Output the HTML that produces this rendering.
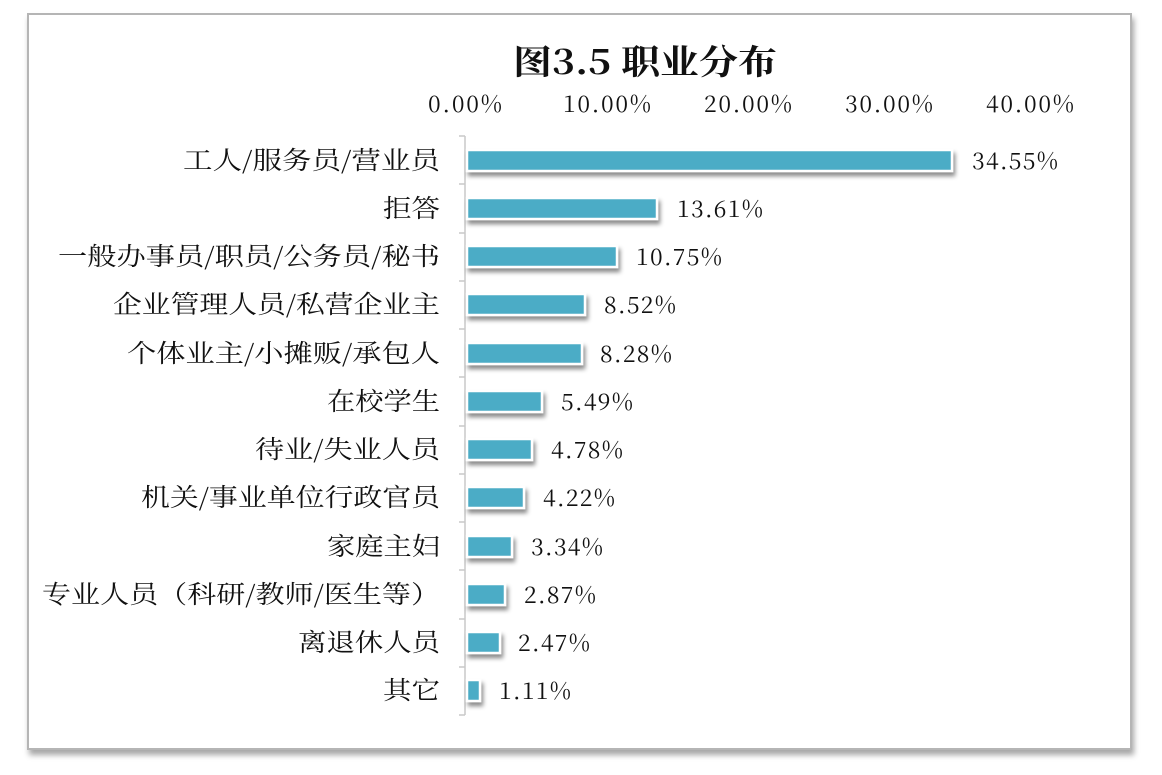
<!DOCTYPE html>
<html><head><meta charset="utf-8"><style>
body{margin:0;background:#fff;}
svg text{font-family:"Noto Serif CJK SC","Liberation Serif",serif;fill:#111;}
</style></head><body>
<svg width="1162" height="770" xmlns="http://www.w3.org/2000/svg">
<defs>
<filter id="sh" x="-10%" y="-10%" width="130%" height="160%"><feDropShadow dx="2" dy="4" stdDeviation="2" flood-color="#000" flood-opacity="0.45"/></filter>
<filter id="fs" x="-5%" y="-5%" width="110%" height="110%"><feDropShadow dx="2" dy="5" stdDeviation="3" flood-color="#000" flood-opacity="0.35"/></filter>
</defs>
<rect x="28" y="14" width="1103" height="735" fill="#fff" stroke="#b5b5b5" stroke-width="2" filter="url(#fs)"/>
<text x="513" y="74" font-size="34" font-weight="bold" textLength="264" lengthAdjust="spacingAndGlyphs">图3.5 职业分布</text>
<g font-size="23">
<text x="428" y="112" textLength="74">0.00%</text><text x="563" y="112" textLength="88">10.00%</text><text x="704" y="112" textLength="88">20.00%</text><text x="845" y="112" textLength="88">30.00%</text><text x="986" y="112" textLength="88">40.00%</text>
</g>
<g stroke="#c8c8c8" stroke-width="1.5">
<line x1="465" y1="136" x2="465" y2="715"/>
<line x1="459" y1="136" x2="465" y2="136"/><line x1="459" y1="184" x2="465" y2="184"/><line x1="459" y1="233" x2="465" y2="233"/><line x1="459" y1="281" x2="465" y2="281"/><line x1="459" y1="329" x2="465" y2="329"/><line x1="459" y1="377" x2="465" y2="377"/><line x1="459" y1="426" x2="465" y2="426"/><line x1="459" y1="474" x2="465" y2="474"/><line x1="459" y1="522" x2="465" y2="522"/><line x1="459" y1="570" x2="465" y2="570"/><line x1="459" y1="619" x2="465" y2="619"/><line x1="459" y1="667" x2="465" y2="667"/><line x1="459" y1="715" x2="465" y2="715"/>
</g>
<g fill="#4BACC6" stroke="#fff" stroke-width="2.5" filter="url(#sh)">
<rect x="467" y="150" width="485" height="21"/>
<rect x="467" y="198" width="190" height="21"/>
<rect x="467" y="246" width="150" height="21"/>
<rect x="467" y="294" width="118" height="21"/>
<rect x="467" y="343" width="115" height="21"/>
<rect x="467" y="391" width="75" height="21"/>
<rect x="467" y="439" width="65" height="21"/>
<rect x="467" y="487" width="57" height="21"/>
<rect x="467" y="536" width="45" height="21"/>
<rect x="467" y="584" width="38" height="21"/>
<rect x="467" y="632" width="33" height="21"/>
<rect x="467" y="680" width="13" height="21"/>
</g>
<g font-size="25" lengthAdjust="spacingAndGlyphs">
<text x="183" y="169" textLength="257" lengthAdjust="spacingAndGlyphs">工人/服务员/营业员</text>
<text x="383" y="217" textLength="57" lengthAdjust="spacingAndGlyphs">拒答</text>
<text x="58" y="265" textLength="382" lengthAdjust="spacingAndGlyphs">一般办事员/职员/公务员/秘书</text>
<text x="113" y="313" textLength="327" lengthAdjust="spacingAndGlyphs">企业管理人员/私营企业主</text>
<text x="127" y="362" textLength="313" lengthAdjust="spacingAndGlyphs">个体业主/小摊贩/承包人</text>
<text x="327" y="410" textLength="113" lengthAdjust="spacingAndGlyphs">在校学生</text>
<text x="255" y="458" textLength="185" lengthAdjust="spacingAndGlyphs">待业/失业人员</text>
<text x="141" y="506" textLength="299" lengthAdjust="spacingAndGlyphs">机关/事业单位行政官员</text>
<text x="327" y="555" textLength="113" lengthAdjust="spacingAndGlyphs">家庭主妇</text>
<text x="42" y="603" textLength="398" lengthAdjust="spacingAndGlyphs">专业人员（科研/教师/医生等）</text>
<text x="298" y="651" textLength="142" lengthAdjust="spacingAndGlyphs">离退休人员</text>
<text x="383" y="699" textLength="57" lengthAdjust="spacingAndGlyphs">其它</text>
</g>
<g font-size="23">
<text x="972" y="169" textLength="86">34.55%</text>
<text x="677" y="217" textLength="86">13.61%</text>
<text x="636" y="265" textLength="86">10.75%</text>
<text x="604" y="313" textLength="72">8.52%</text>
<text x="600" y="362" textLength="72">8.28%</text>
<text x="561" y="410" textLength="72">5.49%</text>
<text x="551" y="458" textLength="72">4.78%</text>
<text x="543" y="506" textLength="72">4.22%</text>
<text x="531" y="555" textLength="72">3.34%</text>
<text x="524" y="603" textLength="72">2.87%</text>
<text x="518" y="651" textLength="72">2.47%</text>
<text x="499" y="699" textLength="72">1.11%</text>
</g>
</svg>
</body></html>
